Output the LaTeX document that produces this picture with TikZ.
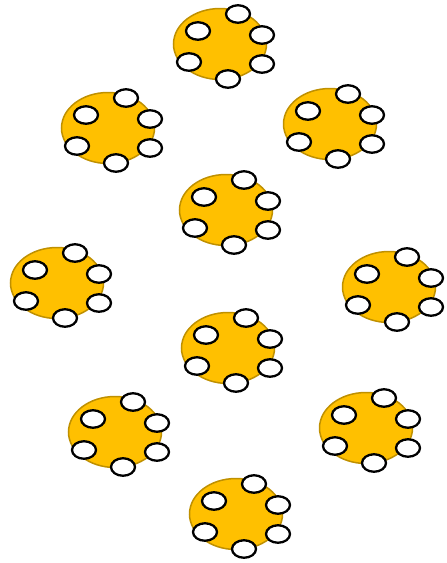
\documentclass[tikz,border=0pt]{standalone}
\definecolor{tablefill}{HTML}{FFC000}
\definecolor{tableedge}{HTML}{BF9000}
\tikzset{
  tablebox/.style={ellipse, draw=tableedge, fill=tablefill, line width=1.5pt, minimum width=93pt, minimum height=71pt, inner sep=0pt},
  chair/.style={ellipse, draw=black, fill=white, line width=2.3pt, minimum width=24pt, minimum height=17.5pt, inner sep=0pt},
  pics/group/.style={code={
    \node[tablebox] (-t) at (0,0) {};
    \node[chair] (-c1) at (18,-30) {};
    \node[chair] (-c2) at (-22,-13) {};
    \node[chair] (-c3) at (42,-9) {};
    \node[chair] (-c4) at (-31,18) {};
    \node[chair] (-c5) at (42,20) {};
    \node[chair] (-c6) at (8,35) {};
  }}
}
\usetikzlibrary{shapes.geometric}
\begin{document}
\begin{tikzpicture}[x=1pt,y=-1pt]
\useasboundingbox (0,0) rectangle (447,563);
\pic (g1) at (220,44) {group};
\pic (g2) at (108,128) {group};
\pic (g3) at (330,124) {group};
\pic (g4) at (226,210) {group};
\pic (g5) at (57,283) {group};
\pic (g6) at (389,287) {group};
\pic (g7) at (228,348) {group};
\pic (g8) at (115,432) {group};
\pic (g9) at (366,428) {group};
\pic (g10) at (236,514) {group};
\end{tikzpicture}
\end{document}
